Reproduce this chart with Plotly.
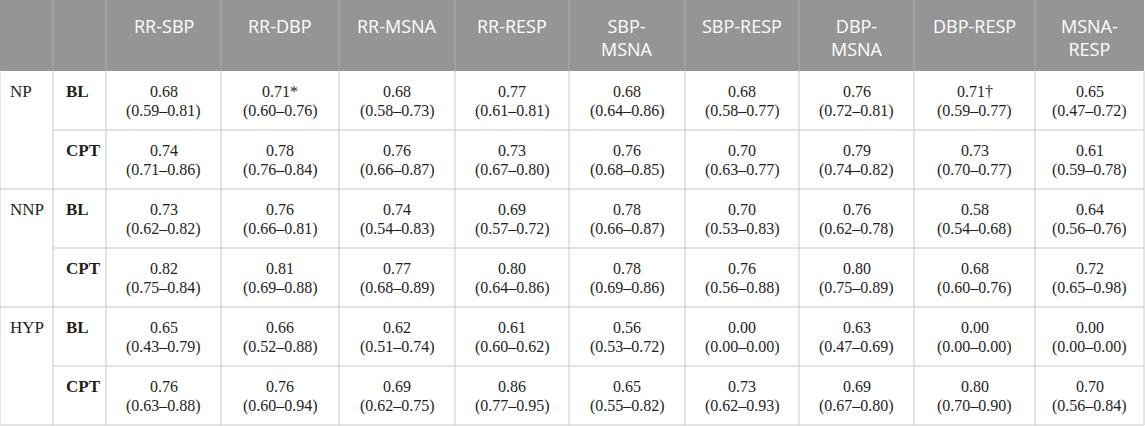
import plotly.graph_objects as go

# ---------------- data ----------------
pairs = ["RR-SBP", "RR-DBP", "RR-MSNA", "RR-RESP", "SBP-<br>MSNA",
         "SBP-RESP", "DBP-<br>MSNA", "DBP-RESP", "MSNA-<br>RESP"]
groups = ["NP", "NNP", "HYP"]
conditions = ["BL", "CPT"]

est = [
    [0.68, 0.71, 0.68, 0.77, 0.68, 0.68, 0.76, 0.71, 0.65],  # NP BL
    [0.74, 0.78, 0.76, 0.73, 0.76, 0.70, 0.79, 0.73, 0.61],  # NP CPT
    [0.73, 0.76, 0.74, 0.69, 0.78, 0.70, 0.76, 0.58, 0.64],  # NNP BL
    [0.82, 0.81, 0.77, 0.80, 0.78, 0.76, 0.80, 0.68, 0.72],  # NNP CPT
    [0.65, 0.66, 0.62, 0.61, 0.56, 0.00, 0.63, 0.00, 0.00],  # HYP BL
    [0.76, 0.76, 0.69, 0.86, 0.65, 0.73, 0.69, 0.80, 0.70],  # HYP CPT
]
lower = [
    [0.59, 0.60, 0.58, 0.61, 0.64, 0.58, 0.72, 0.59, 0.47],
    [0.71, 0.76, 0.66, 0.67, 0.68, 0.63, 0.74, 0.70, 0.59],
    [0.62, 0.66, 0.54, 0.57, 0.66, 0.53, 0.62, 0.54, 0.56],
    [0.75, 0.69, 0.68, 0.64, 0.69, 0.56, 0.75, 0.60, 0.65],
    [0.43, 0.52, 0.51, 0.60, 0.53, 0.00, 0.47, 0.00, 0.00],
    [0.63, 0.60, 0.62, 0.77, 0.55, 0.62, 0.67, 0.70, 0.56],
]
upper = [
    [0.81, 0.76, 0.73, 0.81, 0.86, 0.77, 0.81, 0.77, 0.72],
    [0.86, 0.84, 0.87, 0.80, 0.85, 0.77, 0.82, 0.77, 0.78],
    [0.82, 0.81, 0.83, 0.72, 0.87, 0.83, 0.78, 0.68, 0.76],
    [0.84, 0.88, 0.89, 0.86, 0.86, 0.88, 0.89, 0.76, 0.98],
    [0.79, 0.88, 0.74, 0.62, 0.72, 0.00, 0.69, 0.00, 0.00],
    [0.88, 0.94, 0.75, 0.95, 0.82, 0.93, 0.80, 0.90, 0.84],
]
marks = [
    ["", "*", "", "", "", "", "", "†", ""],
    [""] * 9, [""] * 9, [""] * 9, [""] * 9, [""] * 9,
]

# ---------------- layout geometry ----------------
W, H = 1145, 426
col_edges = [0, 53, 106, 221, 339, 455, 569, 685, 799, 914, 1035, 1144]
header_h = 71
row_h = 59
n_rows = len(groups) * len(conditions)
row_tops = [header_h + i * row_h for i in range(n_rows)]
bottom = header_h + n_rows * row_h

HEADER_FILL = "#959595"
HEADER_SEP = "#ababab"
GRID = "#c8c8c8"
TEXT = "#1e1e1e"
SERIF = "Liberation Serif, Times New Roman, serif"
SANS = "Open Sans, sans-serif"

shapes = []
annotations = []

# header background
shapes.append(dict(type="rect", x0=0, x1=col_edges[-1], y0=0, y1=header_h,
                   fillcolor=HEADER_FILL, line=dict(width=0), layer="below"))
# header vertical separators
for x in col_edges[1:-1]:
    shapes.append(dict(type="line", x0=x, x1=x, y0=0, y1=header_h,
                       line=dict(color=HEADER_SEP, width=1)))
# body vertical lines
for x in col_edges:
    shapes.append(dict(type="line", x0=x, x1=x, y0=header_h, y1=bottom,
                       line=dict(color=GRID, width=1)))
# body horizontal lines
for i in range(n_rows):
    yb = row_tops[i] + row_h
    inner = (i % 2 == 0)
    shapes.append(dict(type="line", x0=col_edges[1] if inner else 0,
                       x1=col_edges[-1], y0=yb, y1=yb,
                       line=dict(color=GRID, width=1)))

# header labels
for j, name in enumerate(pairs):
    cx = (col_edges[j + 2] + col_edges[j + 3]) / 2
    annotations.append(dict(x=cx, y=12, text=name, showarrow=False,
                            xanchor="center", yanchor="top",
                            font=dict(family=SANS, size=18, color="white")))

# body
for i in range(n_rows):
    top = row_tops[i]
    g = groups[i // 2]
    c = conditions[i % 2]
    if i % 2 == 0:
        annotations.append(dict(x=8, y=top + 20, text=g, showarrow=False,
                                xanchor="left", yanchor="middle",
                                font=dict(family=SERIF, size=17, color=TEXT)))
    annotations.append(dict(x=col_edges[1] + 11, y=top + 20, text=f"<b>{c}</b>",
                            showarrow=False, xanchor="left", yanchor="middle",
                            font=dict(family=SERIF, size=17, color=TEXT)))
    for j in range(len(pairs)):
        cx = (col_edges[j + 2] + col_edges[j + 3]) / 2
        annotations.append(dict(x=cx, y=top + 20,
                                text=f"{est[i][j]:.2f}{marks[i][j]}",
                                showarrow=False, xanchor="center", yanchor="middle",
                                font=dict(family=SERIF, size=16, color=TEXT)))
        annotations.append(dict(x=cx, y=top + 40,
                                text=f"({lower[i][j]:.2f}–{upper[i][j]:.2f})",
                                showarrow=False, xanchor="center", yanchor="middle",
                                font=dict(family=SERIF, size=16, color=TEXT)))

fig = go.Figure()
fig.update_layout(
    width=W, height=H,
    margin=dict(l=0, r=0, t=0, b=0, pad=0),
    paper_bgcolor="white", plot_bgcolor="white",
    xaxis=dict(range=[0, W], visible=False, fixedrange=True),
    yaxis=dict(range=[H, 0], visible=False, fixedrange=True),
    shapes=shapes, annotations=annotations, showlegend=False,
)
fig.write_html("out.html", config={"displayModeBar": False, "staticPlot": True},
               post_script="document.body.style.margin='0';")
